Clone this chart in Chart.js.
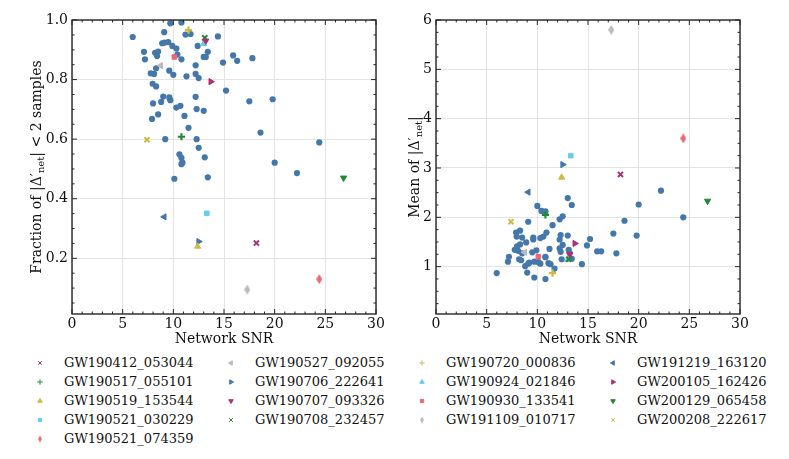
<!DOCTYPE html>
<html>
<head>
<meta charset="utf-8">
<script src="https://cdn.jsdelivr.net/npm/chart.js@4.4.1/dist/chart.umd.min.js"></script>
<style>
  body { margin: 0; background: #fff; width: 789px; height: 459px; overflow: hidden; position: relative; font-family: 'DejaVu Serif', serif; }
  canvas { position: absolute; top: 0; }
  .lg-mark { position: absolute; width: 12px; height: 12px; }
  .lg-text { position: absolute; font-size: 13px; line-height: 16px; height: 16px; white-space: nowrap; color: #111; }
</style>
</head>
<body>
<canvas id="fracChart" width="390" height="350" style="left:0"></canvas>
<canvas id="meanChart" width="399" height="350" style="left:390px"></canvas>
<div id="legend"></div>
<script>
// background events: network SNR, fraction of |D'net| < 2 samples, mean |D'net|
const snr = [5.99, 7.1, 7.2, 7.77, 7.9, 7.96, 8.0, 8.1, 8.2, 8.3, 8.3, 8.4, 8.5, 8.5, 8.8, 8.9, 9.0, 9.1, 9.1, 9.2,
  9.5, 9.6, 9.6, 9.7, 9.7, 9.9, 10.0, 10.1, 10.3, 10.3, 10.4, 10.6, 10.7, 10.8, 10.8, 10.8, 10.8, 10.9, 11.1, 11.2,
  11.3, 11.5, 11.7, 12.2, 12.2, 12.2, 12.3, 12.3, 12.4, 12.5, 12.5, 13.0, 13.0, 13.1, 13.2, 13.4, 13.4,
  14.4, 14.9, 15.2, 15.9, 16.3, 17.5, 17.8, 18.6, 19.8, 20.0, 22.2, 24.4];
const frac = [0.943, 0.893, 0.868, 0.821, 0.668, 0.786, 0.72, 0.819, 0.89, 0.777, 0.838, 0.879, 0.683, 0.894, 0.725, 0.922, 0.743, 0.959, 0.924, 0.60,
  0.926, 0.83, 0.74, 0.731, 0.989, 0.913, 0.816, 0.467, 0.904, 0.706, 0.884, 0.549, 0.712, 0.992, 0.868, 0.537, 0.516, 0.521, 0.678, 0.951,
  0.811, 0.638, 0.953, 0.819, 0.848, 0.742, 0.701, 0.60, 0.913, 0.805, 0.571, 0.876, 0.695, 0.539, 0.876, 0.893, 0.472,
  0.945, 0.857, 0.763, 0.881, 0.863, 0.727, 0.872, 0.622, 0.734, 0.521, 0.486, 0.589];
const meanDelta = [0.87, 1.10, 1.20, 1.34, 1.69, 1.61, 1.41, 1.32, 1.15, 1.45, 1.73, 1.13, 1.27, 1.59, 1.01, 1.49, 0.88, 1.91, 1.06, 1.08,
  1.29, 1.55, 1.59, 0.78, 1.10, 1.33, 2.23, 1.09, 1.58, 1.06, 2.13, 1.61, 2.10, 1.20, 0.75, 1.19, 2.12, 1.69, 1.07, 1.36,
  1.05, 1.84, 0.96, 1.37, 1.55, 1.96, 1.64, 1.30, 1.15, 2.02, 1.44, 1.63, 2.39, 1.34, 1.27, 2.25, 1.16,
  1.05, 1.43, 1.56, 1.31, 1.31, 1.67, 1.27, 1.93, 1.63, 2.26, 2.54, 2.00];

// highlighted events
const eventNames = ['GW190412_053044', 'GW190517_055101', 'GW190519_153544', 'GW190521_030229', 'GW190521_074359',
  'GW190527_092055', 'GW190706_222641', 'GW190707_093326', 'GW190708_232457', 'GW190720_000836', 'GW190924_021846',
  'GW190930_133541', 'GW191109_010717', 'GW191219_163120', 'GW200105_162426', 'GW200129_065458', 'GW200208_222617'];
const eventSnr = [18.2, 10.8, 12.4, 13.3, 24.4, 8.75, 12.5, 13.2, 13.1, 11.5, 13.0, 10.1, 17.3, 9.1, 13.7, 26.8, 7.4];
const eventFrac = [0.251, 0.608, 0.24, 0.351, 0.13, 0.847, 0.256, 0.93, 0.94, 0.966, 0.92, 0.876, 0.095, 0.339, 0.793, 0.47, 0.598];
const eventMean = [2.87, 2.05, 2.81, 3.25, 3.6, 1.29, 3.07, 1.25, 1.15, 0.87, 1.14, 1.2, 5.8, 2.51, 1.47, 2.33, 1.91];

const snrTicks = [0, 5, 10, 15, 20, 25, 30];
const fracTicks = [0.2, 0.4, 0.6, 0.8, 1.0];
const meanTicks = [1, 2, 3, 4, 5, 6];

const markers = ['x', '+', '^', 's', 'd', '<', '>', 'v'];
const colors = ['#AA3377', '#228833', '#CCBB44', '#66CCEE', '#EE6677', '#BBBBBB', '#4477AA'];
const dotColor = '#4477AA';
const FONT = 'DejaVu Serif';

function thinDiamond(color, w, h) {
  const c = document.createElement('canvas');
  c.width = w; c.height = h;
  const g = c.getContext('2d');
  g.fillStyle = color;
  g.beginPath();
  g.moveTo(w / 2, 0); g.lineTo(w, h / 2); g.lineTo(w / 2, h); g.lineTo(0, h / 2);
  g.closePath(); g.fill();
  return c;
}

function markerOpts(m, color, small) {
  const r = small ? 2.6 : 3.6;
  switch (m) {
    case 'x': return { pointStyle: 'crossRot', rotation: 0, radius: r, borderWidth: small ? 1.5 : 2 };
    case '+': return { pointStyle: 'cross', rotation: 0, radius: r, borderWidth: small ? 1.6 : 2.2 };
    case '^': return { pointStyle: 'triangle', rotation: 0, radius: r, borderWidth: 1 };
    case 's': return { pointStyle: 'rect', rotation: 0, radius: r * 0.9, borderWidth: 1 };
    case 'd': return { pointStyle: small ? thinDiamond(color, 4, 7) : thinDiamond(color, 6, 10), rotation: 0, radius: r, borderWidth: 0 };
    case '<': return { pointStyle: 'triangle', rotation: 270, radius: r, borderWidth: 1 };
    case '>': return { pointStyle: 'triangle', rotation: 90, radius: r, borderWidth: 1 };
    case 'v': return { pointStyle: 'triangle', rotation: 180, radius: r, borderWidth: 1 };
  }
}

function buildDatasets(values, eventValues) {
  const sets = eventNames.map((name, i) => {
    const color = colors[i % colors.length];
    const mo = markerOpts(markers[i % markers.length], color, false);
    return {
      label: name,
      data: [{ x: eventSnr[i], y: eventValues[i] }],
      pointStyle: mo.pointStyle,
      rotation: mo.rotation,
      pointRadius: mo.radius,
      pointBorderWidth: mo.borderWidth,
      backgroundColor: color,
      borderColor: color
    };
  });
  sets.push({
    label: 'events',
    data: snr.map((s, i) => ({ x: s, y: values[i] })),
    pointStyle: 'circle',
    pointRadius: 3.1,
    pointBorderWidth: 0,
    backgroundColor: dotColor,
    borderColor: dotColor
  });
  return sets;
}

// inside ticks on all four sides + frame
const frameTicks = {
  id: 'frameTicks',
  afterDatasetsDraw(chart, args, o) {
    const { ctx, chartArea: a, scales: { x, y } } = chart;
    ctx.save();
    ctx.strokeStyle = '#262626';
    ctx.lineWidth = 1;
    ctx.beginPath();
    const run = (scale, minor, ratio, fn) => {
      const k0 = Math.ceil(scale.min / minor - 1e-6), k1 = Math.floor(scale.max / minor + 1e-6);
      for (let k = k0; k <= k1; k++) fn(scale.getPixelForValue(k * minor), k % ratio === 0 ? 5 : 2.5);
    };
    run(x, o.xMinor, o.xRatio, (p, len) => {
      ctx.moveTo(p, a.bottom); ctx.lineTo(p, a.bottom - len);
      ctx.moveTo(p, a.top); ctx.lineTo(p, a.top + len);
    });
    run(y, o.yMinor, o.yRatio, (p, len) => {
      ctx.moveTo(a.left, p); ctx.lineTo(a.left + len, p);
      ctx.moveTo(a.right, p); ctx.lineTo(a.right - len, p);
    });
    ctx.stroke();
    ctx.lineWidth = 1.4;
    ctx.strokeRect(a.left, a.top, a.right - a.left, a.bottom - a.top);
    ctx.restore();
  }
};

// rotated y title with a subscript part
const yTitle = {
  id: 'yTitle',
  afterDraw(chart, args, o) {
    const { ctx, chartArea: a } = chart;
    const big = '14px "' + FONT + '"', small = '10px "' + FONT + '"';
    ctx.save();
    ctx.fillStyle = '#111';
    ctx.textBaseline = 'middle';
    ctx.textAlign = 'left';
    let total = 0;
    const widths = o.parts.map(p => { ctx.font = p.sub ? small : big; const w = ctx.measureText(p.t).width; total += w; return w; });
    ctx.translate(o.x, (a.top + a.bottom) / 2);
    ctx.rotate(-Math.PI / 2);
    let pos = -total / 2;
    o.parts.forEach((p, i) => {
      ctx.font = p.sub ? small : big;
      ctx.fillText(p.t, pos, p.sub ? 4 : 0);
      pos += widths[i];
    });
    ctx.restore();
  }
};

function makeChart(id, values, eventValues, yMin, yMax, yTickVals, yMinor, yRatio, yAxisWidth, padRight, titleParts, titleX) {
  new Chart(document.getElementById(id), {
    type: 'scatter',
    data: { datasets: buildDatasets(values, eventValues) },
    options: {
      responsive: false,
      animation: false,
      devicePixelRatio: 1,
      layout: { padding: { top: 20, right: padRight, bottom: 0, left: 0 } },
      plugins: {
        legend: { display: false },
        tooltip: { enabled: false },
        frameTicks: { xMinor: 1, xRatio: 5, yMinor: yMinor, yRatio: yRatio },
        yTitle: { parts: titleParts, x: titleX }
      },
      scales: {
        x: {
          type: 'linear', min: 0, max: 30,
          afterBuildTicks: s => { s.ticks = snrTicks.map(v => ({ value: v })); },
          afterFit: s => { s.height = 36; },
          grid: { color: '#e4e4e4', lineWidth: 1, drawTicks: false },
          border: { display: false },
          ticks: { padding: 2, color: '#111', font: { family: FONT, size: 14 } },
          title: { display: true, text: 'Network SNR', color: '#111', font: { family: FONT, size: 14 }, padding: { top: 0, bottom: 2 } }
        },
        y: {
          type: 'linear', min: yMin, max: yMax,
          afterBuildTicks: s => { s.ticks = yTickVals.map(v => ({ value: v })); },
          afterFit: s => { s.width = yAxisWidth; },
          grid: { color: '#e4e4e4', lineWidth: 1, drawTicks: false },
          border: { display: false },
          ticks: { padding: 4, color: '#111', font: { family: FONT, size: 14 },
                   callback: v => (yTickVals === fracTicks ? v.toFixed(1) : String(v)) }
        }
      }
    },
    plugins: [frameTicks, yTitle]
  });
}

makeChart('fracChart', frac, eventFrac, 0.013, 1.0, fracTicks, 0.05, 4, 72, 14,
  [{ t: 'Fraction of |\u0394\u2032' }, { t: 'net', sub: true }, { t: '| < 2 samples' }], 37);
makeChart('meanChart', meanDelta, eventMean, 0.04, 6.0, meanTicks, 0.25, 4, 46, 49,
  [{ t: 'Mean of |\u0394\u2032' }, { t: 'net', sub: true }, { t: '|' }], 25);

// legend, column-major like matplotlib (ncol = 4)
const legend = document.getElementById('legend');
const markX = [40, 231, 422, 613], textX = [64, 255, 446, 637], rowY = [363, 382, 401, 420, 439];
const nrows = Math.ceil(eventNames.length / 4), extra = eventNames.length % 4;
eventNames.forEach((name, i) => {
  let col = 0, row = i, count = 0;
  for (let c = 0; c < 4; c++) {
    const n = (extra === 0 || c < extra) ? nrows : nrows - 1;
    if (i < count + n) { col = c; row = i - count; break; }
    count += n;
  }
  const color = colors[i % colors.length];
  const cv = document.createElement('canvas');
  cv.width = 12; cv.height = 12; cv.className = 'lg-mark';
  cv.style.left = (markX[col] - 6) + 'px'; cv.style.top = (rowY[row] - 6) + 'px';
  const g = cv.getContext('2d');
  g.fillStyle = color; g.strokeStyle = color;
  const mo = markerOpts(markers[i % markers.length], color, true);
  Chart.helpers.drawPoint(g, mo, 6, 6);
  legend.appendChild(cv);
  const t = document.createElement('div');
  t.className = 'lg-text';
  t.textContent = name;
  t.style.left = textX[col] + 'px'; t.style.top = (rowY[row] - 8) + 'px';
  legend.appendChild(t);
});
</script>
</body>
</html>
